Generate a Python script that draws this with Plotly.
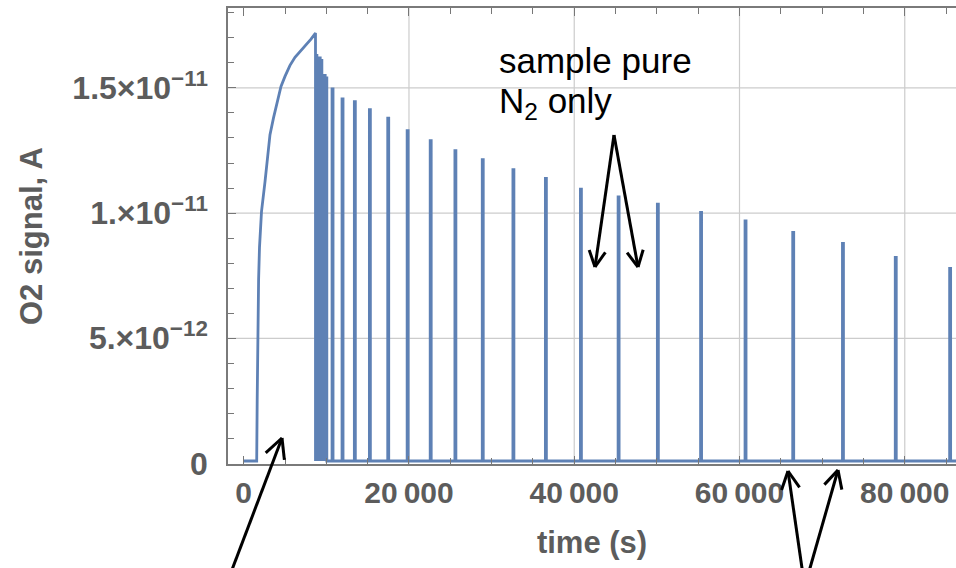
import math
import plotly.graph_objects as go

# DATA
rise_t = [1573, 1634, 1706, 1803, 1912, 2154, 2577, 3000, 3182, 3606, 4029, 4513,
          4997, 5602, 6207, 6933, 7538, 8143, 8688]
rise_v = [1.0e-13, 2.57e-12, 5.36e-12, 7.35e-12, 8.63e-12, 1.006e-11, 1.125e-11, 1.253e-11,
          1.313e-11, 1.380e-11, 1.443e-11, 1.506e-11, 1.546e-11, 1.590e-11, 1.622e-11,
          1.650e-11, 1.670e-11, 1.695e-11, 1.719e-11]
dense_t = [8800, 9000, 9200, 9400, 9600, 9800, 10000]
dense_v = [1.63e-11, 1.62e-11, 1.62e-11, 1.61e-11, 1.55e-11, 1.55e-11, 1.54e-11]
spike_t = [10750, 11960, 13450, 15270, 17490, 19840, 22630, 25620, 28930, 32640,
           36570, 40810, 45370, 50120, 55350, 60730, 66500, 72520, 78910, 85490]
spike_v = [1.496e-11, 1.456e-11, 1.445e-11, 1.413e-11, 1.379e-11, 1.329e-11, 1.289e-11,
           1.249e-11, 1.213e-11, 1.173e-11, 1.139e-11, 1.096e-11, 1.065e-11, 1.036e-11,
           1.003e-11, 0.969e-11, 0.923e-11, 0.879e-11, 0.823e-11, 0.779e-11]
baseline = 1.0e-13

xtickvals = [0, 20000, 40000, 60000, 80000]
xticktext = ['0', '20\u2009000', '40\u2009000', '60\u2009000', '80\u2009000']
ytickvals = [0, 5e-12, 1e-11, 1.5e-11]
yticktext = ['0', '5.\u00d710<sup>\u221212</sup>', '1.\u00d710<sup>\u221211</sup>', '1.5\u00d710<sup>\u221211</sup>']

# GEOMETRY
W, H = 956, 568
L, R, T, B = 228, 0, 8, 104
xrange_ = [-1900, 86200]
yrange_ = [-2e-14, 1.819e-11]
blue = '#5e81b5'
gray = '#5c5c5c'
font = 'Liberation Sans, Arial, sans-serif'


def topaper(px, py):
  """Convert pixel position in the picture to paper coordinates."""
  return (px-L)/(W-L-R), (H-B-py)/(H-T-B)


def arrow(tail, tip, head=18, angle=27, width=3):
  """Open V-shaped arrow as list of line shapes (pixel coordinates)."""
  dx, dy = tail[0]-tip[0], tail[1]-tip[1]
  norm = math.hypot(dx, dy)
  dx, dy = dx/norm, dy/norm
  segs = [(tail, tip)]
  for sign in (-1, 1):
    a = math.radians(sign*angle)
    hx = tip[0] + head*(dx*math.cos(a) - dy*math.sin(a))
    hy = tip[1] + head*(dx*math.sin(a) + dy*math.cos(a))
    segs.append((tip, (hx, hy)))
  shapes = []
  for p0, p1 in segs:
    x0, y0 = topaper(*p0)
    x1, y1 = topaper(*p1)
    shapes.append(dict(type='line', xref='paper', yref='paper', x0=x0, y0=y0, x1=x1, y1=y1,
                       line=dict(color='black', width=width)))
  return shapes


# BUILD SIGNAL TRACE
xs, ys = [0], [baseline]
xs += rise_t
ys += rise_v
xs.append(rise_t[-1]); ys.append(baseline)
hw = 60  # half width of the sampling pulses
for t, v in zip(dense_t+spike_t, dense_v+spike_v):
  xs += [t-hw, t-hw, t+hw, t+hw]
  ys += [baseline, v, v, baseline]
xs.append(xrange_[1]); ys.append(baseline)

fig = go.Figure()
fig.add_trace(go.Scatter(x=xs, y=ys, mode='lines', line=dict(color=blue, width=2.8),
                         hoverinfo='skip', showlegend=False))

# GRID LINES (none at zero)
shapes = []
for xv in xtickvals[1:]:
  shapes.append(dict(type='line', xref='x', yref='paper', x0=xv, x1=xv, y0=0, y1=1, layer='below',
                     line=dict(color='#cccccc', width=1.2)))
for yv in ytickvals[1:]:
  shapes.append(dict(type='line', xref='paper', yref='y', x0=0, x1=1, y0=yv, y1=yv, layer='below',
                     line=dict(color='#cccccc', width=1.2)))

# ARROWS
shapes += arrow((614, 135), (595, 267))
shapes += arrow((614, 135), (638, 267))
shapes += arrow((230, 575), (282, 438), head=22)
shapes += arrow((803, 575), (788, 471), head=20)
shapes += arrow((808, 575), (838, 470), head=20)

# TEXT
annots = []
for text, py in [("sample pure", 60), ("N<sub>2</sub> only", 103)]:
  x, y = topaper(497, py)
  annots.append(dict(text=text, xref='paper', yref='paper', x=x, y=y, xanchor='left', yanchor='middle',
                     showarrow=False, font=dict(family=font, size=35, color='black')))

fig.update_layout(
  width=W, height=H,
  margin=dict(l=L, r=R, t=T, b=B, pad=0, autoexpand=False),
  plot_bgcolor='white', paper_bgcolor='white',
  font=dict(family=font, size=30, color=gray),
  showlegend=False,
  shapes=shapes,
  annotations=annots,
  xaxis=dict(
    range=xrange_, tickvals=xtickvals, ticktext=xticktext, automargin=False,
    ticks='inside', ticklen=8, tickwidth=1.3, tickcolor='#777777',
    minor=dict(dtick=5000, ticks='inside', ticklen=6, tickwidth=1, tickcolor='#777777'),
    showline=True, linecolor='#7a7a7a', linewidth=1.5, mirror='ticks',
    showgrid=False, zeroline=False,
    tickfont=dict(family=font, size=30, color=gray, weight='bold'),
    ticklabelstandoff=1,
    title=dict(text='time (s)', standoff=24, font=dict(family=font, size=31, color=gray, weight='bold')),
  ),
  yaxis=dict(
    range=yrange_, tickvals=ytickvals, ticktext=yticktext, automargin=False,
    ticks='inside', ticklen=8, tickwidth=1.3, tickcolor='#777777',
    minor=dict(dtick=1e-12, ticks='inside', ticklen=6, tickwidth=1, tickcolor='#777777'),
    showline=True, linecolor='#7a7a7a', linewidth=1.5, mirror=False,
    showgrid=False, zeroline=False,
    tickfont=dict(family=font, size=32, color=gray, weight='bold'),
    ticklabelstandoff=12,
    title=dict(text='O2 signal, A', standoff=20, font=dict(family=font, size=31, color=gray, weight='bold')),
  ),
)

# page body has an 8px default margin: drop it so the figure fills the window
fig.write_html("out.html", config=dict(displayModeBar=False),
               post_script="document.body.style.margin='0';document.body.style.overflow='hidden';")
